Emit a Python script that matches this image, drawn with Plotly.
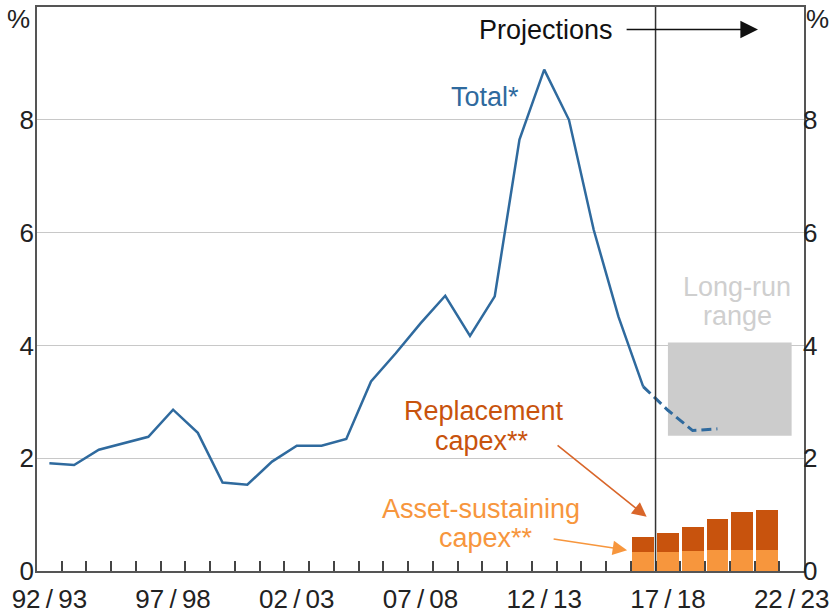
import plotly.graph_objects as go

# ---- data ----
years = ["92/93", "93/94", "94/95", "95/96", "96/97", "97/98", "98/99", "99/00",
         "00/01", "01/02", "02/03", "03/04", "04/05", "05/06", "06/07", "07/08",
         "08/09", "09/10", "10/11", "11/12", "12/13", "13/14", "14/15", "15/16",
         "16/17", "17/18", "18/19", "19/20", "20/21", "21/22", "22/23"]
total_actual = [1.91, 1.88, 2.15, 2.27, 2.38, 2.86, 2.45, 1.57, 1.53, 1.94,
                2.22, 2.22, 2.34, 3.36, 3.86, 4.39, 4.88, 4.17, 4.87, 7.65,
                8.89, 8.00, 6.05, 4.51, 3.27]
total_proj_years = ["16/17", "17/18", "18/19", "19/20"]
total_proj = [3.27, 2.85, 2.49, 2.52]
bar_years = ["16/17", "17/18", "18/19", "19/20", "20/21", "21/22"]
asset_sustaining = [0.34, 0.34, 0.36, 0.37, 0.37, 0.37]
replacement = [0.26, 0.33, 0.42, 0.55, 0.67, 0.72]
tick_years = ["92/93", "97/98", "02/03", "07/08", "12/13", "17/18", "22/23"]
y_ticks = [0, 2, 4, 6, 8]
long_run_range = [2.4, 4.05]

idx = {y: i for i, y in enumerate(years)}
FONT = "Liberation Sans, Arial, sans-serif"
BLUE = "#2f6a9e"
DARK_OR = "#c8530d"
LIGHT_OR = "#f7963d"

fig = go.Figure()

fig.add_trace(go.Bar(x=[idx[y] for y in bar_years], y=asset_sustaining,
                     marker=dict(color=LIGHT_OR, line=dict(width=0)), width=0.88,
                     hoverinfo="skip"))
fig.add_trace(go.Bar(x=[idx[y] for y in bar_years], y=replacement,
                     marker=dict(color=DARK_OR, line=dict(width=0)), width=0.88,
                     hoverinfo="skip"))
fig.add_trace(go.Scatter(x=list(range(len(total_actual))), y=total_actual,
                         mode="lines", line=dict(color=BLUE, width=2.5),
                         hoverinfo="skip"))
fig.add_trace(go.Scatter(x=[idx[y] for y in total_proj_years], y=total_proj,
                         mode="lines", line=dict(color=BLUE, width=3, dash="10px,5px"),
                         hoverinfo="skip"))
# invisible trace for right axis
fig.add_trace(go.Scatter(x=[0], y=[0], yaxis="y2", mode="markers",
                         marker=dict(opacity=0), hoverinfo="skip"))

# long-run range box
fig.add_shape(type="rect", xref="x", yref="y", x0=idx["17/18"], x1=idx["22/23"],
              y0=long_run_range[0], y1=long_run_range[1],
              fillcolor="#cccccc", line=dict(width=0), layer="between")
# projections divider
fig.add_shape(type="line", xref="x", yref="y", x0=idx["16/17"] + 0.5, x1=idx["16/17"] + 0.5,
              y0=0, y1=10, line=dict(color="#333333", width=1.5), layer="above")

ann = []
def txt(text, x, y, color, xanchor="center", size=27, xref="x", yref="y"):
    ann.append(dict(text=text, x=x, y=y, xref=xref, yref=yref, showarrow=False,
                    xanchor=xanchor, yanchor="middle",
                    font=dict(family=FONT, size=size, color=color)))

txt("%", -0.024, 0.979, "#222222", xref="paper", yref="paper", size=26)
txt("%", 1.018, 0.979, "#222222", xref="paper", yref="paper", size=26)
txt("Total*", 17.61, 8.41, BLUE)
txt("Replacement", 17.57, 2.84, DARK_OR)
txt("capex**", 17.49, 2.31, DARK_OR)
txt("Asset-sustaining", 17.45, 1.10, LIGHT_OR)
txt("capex**", 17.65, 0.585, LIGHT_OR)
txt("Long-run", 27.79, 5.04, "#cfcfcf")
txt("range", 27.83, 4.53, "#cfcfcf")
txt("Projections", 22.86, 9.60, "#111111", xanchor="right")

def arrow(x0, y0, x1, y1, color, size=1.8):
    ann.append(dict(text="", x=x1, y=y1, ax=x0, ay=y0, xref="x", yref="y",
                    axref="x", ayref="y", showarrow=True, arrowhead=2,
                    arrowsize=size, arrowwidth=1.6, arrowcolor=color))

arrow(23.27, 9.60, 28.64, 9.60, "#111111", 2.2)
arrow(20.48, 2.25, 24.14, 0.96, "#d9662a")
arrow(20.32, 0.57, 23.35, 0.37, LIGHT_OR)

fig.update_layout(
    width=832, height=616,
    margin=dict(l=37, r=28, t=7, b=45, autoexpand=False),
    paper_bgcolor="white", plot_bgcolor="white",
    showlegend=False, barmode="stack", hovermode=False,
    font=dict(family=FONT, size=26, color="#222222"),
    annotations=ann,
    xaxis=dict(range=[-0.5, len(years) - 0.5], automargin=False,
               tickmode="array", tickvals=[idx[y] for y in tick_years],
               ticktext=[y.replace("/", "\u2009/\u2009") for y in tick_years],
               ticks="", showgrid=False, zeroline=False, ticklabelstandoff=4,
               showline=True, linecolor="#555555", linewidth=1.5, mirror=True,
               tickfont=dict(size=26, color="#222222"),
               minor=dict(tickmode="array",
                          tickvals=[i + 0.5 for i in range(len(years) - 1)],
                          ticks="inside", ticklen=10, tickwidth=1.5,
                          tickcolor="#444444", showgrid=False)),
    yaxis=dict(range=[0, 10], tickmode="array", tickvals=y_ticks, automargin=False,
               showgrid=True, gridcolor="#c8c8c8", gridwidth=1, zeroline=False,
               showline=True, linecolor="#555555", linewidth=1.5, mirror=True,
               ticks="", ticklabelstandoff=-4, tickfont=dict(size=26, color="#222222")),
    yaxis2=dict(range=[0, 10], tickmode="array", tickvals=y_ticks, automargin=False,
                overlaying="y", side="right", showgrid=False, zeroline=False,
                showline=False, ticks="", ticklabelstandoff=-2,
                tickfont=dict(size=26, color="#222222")),
)

fig.write_html("out.html", config={"displayModeBar": False},
               post_script="document.body.style.margin='0px';document.body.style.padding='0px';")
